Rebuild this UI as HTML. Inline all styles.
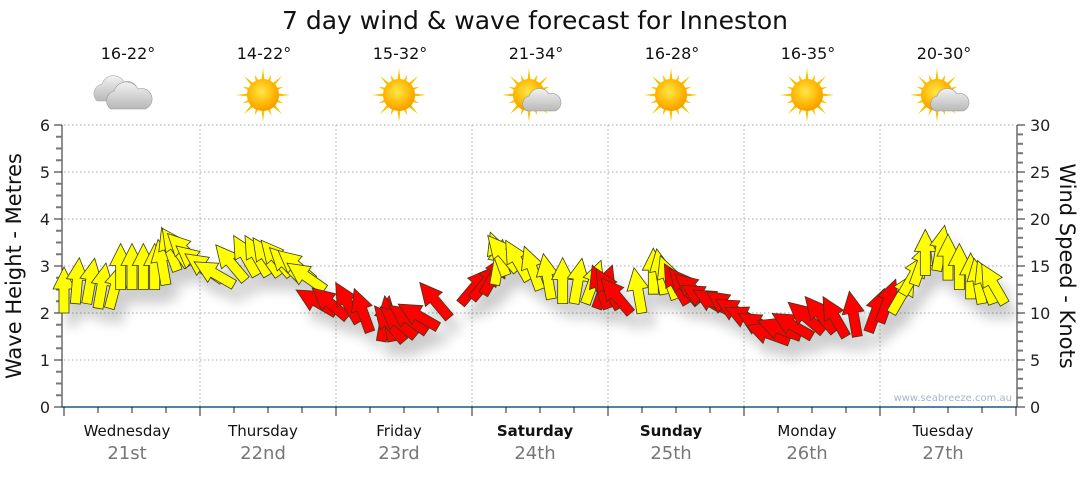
<!DOCTYPE html>
<html><head><meta charset="utf-8"><style>
body{margin:0;background:#fff;font-family:"Liberation Sans","DejaVu Sans",sans-serif}
svg text{font-family:"DejaVu Sans","Liberation Sans",sans-serif}
</style></head><body>
<svg id="c" width="1080" height="475" viewBox="0 0 1080 475" xmlns="http://www.w3.org/2000/svg">
<defs>
<filter id="sh" x="-20%" y="-20%" width="140%" height="160%"><feGaussianBlur in="SourceAlpha" stdDeviation="6"/><feOffset dx="8" dy="14"/><feComponentTransfer><feFuncA type="linear" slope="0.2"/></feComponentTransfer><feMerge><feMergeNode/><feMergeNode in="SourceGraphic"/></feMerge></filter>
<radialGradient id="sun" cx="45%" cy="40%" r="60%"><stop offset="0" stop-color="#ffe84a"/><stop offset="0.7" stop-color="#ffb400"/><stop offset="1" stop-color="#f39c00"/></radialGradient>
<linearGradient id="cloud" x1="0" y1="0" x2="0" y2="1"><stop offset="0" stop-color="#f2f2f2"/><stop offset="1" stop-color="#b8b8b8"/></linearGradient>
</defs>
<text x="535" y="29" font-size="25" text-anchor="middle" fill="#111">7 day wind &amp; wave forecast for Inneston</text>
<g id="grid"></g><g id="axes"></g><g id="icons"></g><g id="arrows" filter="url(#sh)"></g>
<text x="1012" y="401" font-size="10" text-anchor="end" fill="#a9b4c8">www.seabreeze.com.au</text>
<text transform="translate(21,266) rotate(-90)" font-size="21" text-anchor="middle" fill="#111">Wave Height - Metres</text>
<text transform="translate(1060,266) rotate(90)" font-size="21" text-anchor="middle" fill="#111">Wind Speed - Knots</text>
</svg>
<script>
const days=["Wednesday","Thursday","Friday","Saturday","Sunday","Monday","Tuesday"];
const dates=["21st","22nd","23rd","24th","25th","26th","27th"];
const temps=["16-22°","14-22°","15-32°","21-34°","16-28°","16-35°","20-30°"];
const weather=["cloudy","sunny","sunny","partly","sunny","sunny","partly"];
const leftTicks=[0,1,2,3,4,5,6];
const rightTicks=[0,5,10,15,20,25,30];
// wind speed in knots, every 2 hours
const windSpeed=[10,11,11,10.5,10.5,12.5,12.5,12.5,12.5,13,14.5,15,
15,14,13.5,13,13.5,14,14,14,14,13.5,13.5,12.5,
10,9.5,9,8,7,7,7,7.5,8,8.5,9.5,11,
11.5,12,13,14,14.5,13.5,12.5,11.5,11,11,11,10.5,
10.5,10.5,10,10,12,12,11.5,11,11,11,10.5,10,
9.5,9,8.5,7.5,7,7.5,7.5,8,8,7.5,7.5,8,
9,10,12,13,14,14.5,13.5,12.5,11.5,11,11,11];
// direction arrow points to, degrees clockwise from up
const windDir=[0,5,10,10,15,0,0,0,0,-10,-20,-35,
-45,-50,-55,-60,-40,-30,-30,-35,-40,-45,-50,-55,
-60,-50,-30,-20,10,-10,-40,-50,-55,-60,-40,40,
40,30,10,-20,-40,-30,-20,-10,0,10,20,20,
-20,-30,-40,-10,0,-10,-20,-30,-40,-50,-60,-60,
-55,-60,-65,-60,-70,-70,-60,-50,-40,-30,-10,20,
20,30,30,20,0,10,0,0,0,-10,-20,-30];
// 1 = cross/offshore (red), 0 = onshore (yellow)
const windRed=[0,0,0,0,0,0,0,0,0,0,0,0,
0,0,0,0,0,0,0,0,0,0,0,0,
1,1,1,1,1,1,1,1,1,1,1,1,
1,1,0,0,0,0,0,0,0,0,0,1,
1,1,1,0,0,0,0,1,1,1,1,1,
1,1,1,1,1,1,1,1,1,1,1,1,
1,0,0,0,0,0,0,0,0,0,0,0];

const NS="http://www.w3.org/2000/svg";
const X0=64,DW=136,Y0=407,Y6=125;
const yM=m=>Y0-(m/6)*(Y0-Y6);
const yK=k=>Y0-(k/30)*(Y0-Y6);
const xH=h=>X0+h/24*DW;
function mk(tag,attrs,parent){const e=document.createElementNS(NS,tag);for(const k in attrs)e.setAttribute(k,attrs[k]);parent.appendChild(e);return e;}
const grid=document.getElementById('grid'),axes=document.getElementById('axes'),icons=document.getElementById('icons'),arrows=document.getElementById('arrows');

for(let m=1;m<=6;m++){const l=mk('line',{x1:X0,x2:1016,y1:yM(m),y2:yM(m),stroke:'#aaa','stroke-dasharray':'1.5,2.5'},grid);

}
for(let d=1;d<7;d++){const l=mk('line',{x1:xH(d*24),x2:xH(d*24),y1:Y6,y2:Y0,stroke:'#aaa','stroke-dasharray':'1.5,2.5'},grid);

}

mk('line',{x1:62,x2:62,y1:Y6,y2:Y0,stroke:'#222'},axes);
for(let i=0;i<=24;i++){const m=i/4;mk('line',{x1:62,x2:i%4?56:54,y1:yM(m),y2:yM(m),stroke:i%4?'#777':'#222','stroke-width':i%4?2:1},axes);}
leftTicks.forEach(v=>{const t=mk('text',{x:50,y:yM(v)+6,'font-size':16,'text-anchor':'end',fill:'#222'},axes);t.textContent=v;

});
mk('line',{x1:1017,x2:1017,y1:Y6,y2:Y0,stroke:'#222'},axes);
for(let k=0;k<=30;k++){mk('line',{x1:1017,x2:k%5?1023:1025,y1:yK(k),y2:yK(k),stroke:k%5?'#777':'#222','stroke-width':k%5?2:1},axes);}
rightTicks.forEach(v=>{const t=mk('text',{x:1030,y:yK(v)+6,'font-size':16,fill:'#222'},axes);t.textContent=v;

});
mk('line',{x1:62,x2:1017,y1:Y0,y2:Y0,stroke:'#1d5a85','stroke-width':1.5},axes);
for(let h=0;h<=168;h+=6){mk('line',{x1:xH(h),x2:xH(h),y1:Y0,y2:Y0+(h%24?6:9),stroke:'#222'},axes);}
days.forEach((d,i)=>{const cx=xH(i*24+12)-5;
const t=mk('text',{x:cx,y:436,'font-size':15,'text-anchor':'middle',fill:'#111','font-weight':(i==3||i==4)?'bold':'normal'},axes);t.textContent=d;


const t2=mk('text',{x:cx,y:459,'font-size':18,'text-anchor':'middle',fill:'#777'},axes);t2.textContent=dates[i];


const t3=mk('text',{x:cx+1,y:59,'font-size':16,'text-anchor':'middle',fill:'#111'},axes);t3.textContent=temps[i];


const g=mk('g',{transform:`translate(${cx},95)`},icons);


if(weather[i]!=='cloudy'){
 const sx=weather[i]==='partly'?-6:0;
 for(let r=0;r<16;r++){const a=r*Math.PI/8,L=r%2?22:27;mk('polygon',{points:`${sx+Math.cos(a-0.12)*14},${Math.sin(a-0.12)*14} ${sx+Math.cos(a)*L},${Math.sin(a)*L} ${sx+Math.cos(a+0.12)*14},${Math.sin(a+0.12)*14}`,fill:'#f5c400'},g);}
 mk('circle',{cx:sx,cy:0,r:16,fill:'url(#sun)'},g);
}
if(weather[i]!=='sunny'){
 const ox=weather[i]==='partly'?8:0, oy=weather[i]==='partly'?4:0;
 if(weather[i]==='cloudy'){mk('path',{d:'M-30,6 a10,10 0 0 1 5,-17 a12,12 0 0 1 22,-2 a10,10 0 0 1 7,19 z',fill:'url(#cloud)',stroke:'#aaa','stroke-width':0.6},g);
 mk('path',{d:'M-16,14 a10,10 0 0 1 3,-18 a13,13 0 0 1 24,-2 a10,10 0 0 1 7,20 z',fill:'url(#cloud)',stroke:'#999','stroke-width':0.6},g);}
 else mk('path',{d:`M${ox-16},${oy+12} a8,8 0 0 1 2,-15 a11,11 0 0 1 20,-2 a9,9 0 0 1 6,17 z`,fill:'url(#cloud)',stroke:'#999','stroke-width':0.6},g);
}
});

windSpeed.forEach((k,i)=>{const x=xH(i*2),y=yK(k),a=windDir[i];
const p=mk('polygon',{points:'-5,0 5,0 5,-24 11,-24 0,-46 -11,-24 -5,-24',fill:windRed[i]?'#ff0000':'#ffff00',stroke:'#3a3a1a','stroke-width':0.8,'stroke-linejoin':'miter',transform:`translate(${x},${y}) rotate(${a})`},arrows);

});
</script>
</body></html>
